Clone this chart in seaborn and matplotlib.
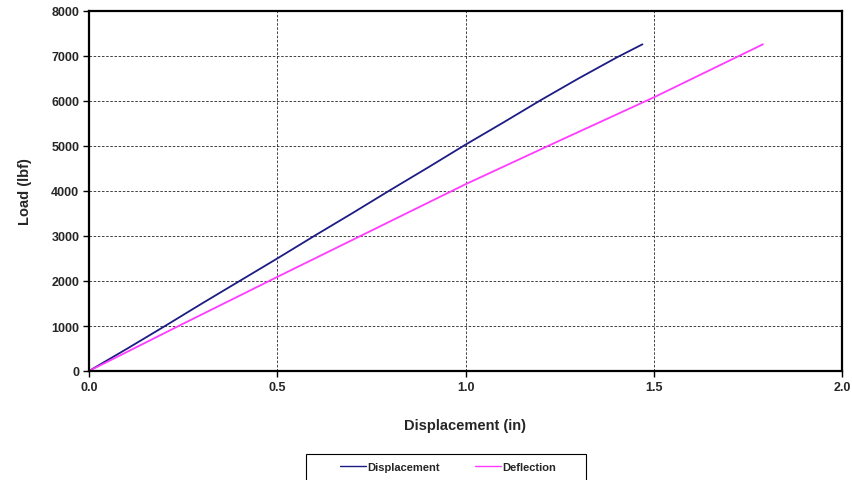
import matplotlib
matplotlib.use("Agg")
import matplotlib.pyplot as plt
import seaborn as sns
import pandas as pd
from matplotlib.lines import Line2D
from matplotlib.patches import Rectangle

disp_x = [0, 0.1, 0.2, 0.3, 0.4, 0.5, 0.6, 0.7, 0.8, 0.9, 1.0, 1.1, 1.2, 1.3, 1.4, 1.47]
disp_load = [0, 490, 990, 1500, 2000, 2500, 3010, 3510, 4020, 4520, 5030, 5520, 6020, 6500, 6960, 7260]
defl_x = [0, 0.25, 0.5, 0.75, 1.0, 1.25, 1.5, 1.79]
defl_load = [0, 1050, 2090, 3120, 4150, 5120, 6080, 7260]
series_names = ["Displacement", "Deflection"]
series_colors = ["#1c1c84", "#ff3cff"]

df = pd.concat([
    pd.DataFrame({"x": disp_x, "load": disp_load, "series": series_names[0]}),
    pd.DataFrame({"x": defl_x, "load": defl_load, "series": series_names[1]}),
], ignore_index=True)

sns.set_theme(style="white")
plt.rcParams["font.family"] = ["Liberation Sans", "DejaVu Sans"]

W, H = 852, 481
fig = plt.figure(figsize=(W / 100, H / 100), dpi=100)
ax = fig.add_axes([89/W, 1-372/H, (842-89)/W, (372-12)/H])

sns.lineplot(data=df, x="x", y="load", hue="series", palette=dict(zip(series_names, series_colors)),
             sort=False, estimator=None, linewidth=1.3, ax=ax, legend=False)

ax.set_xlim(0, 2.0)
ax.set_ylim(0, 8000)
ax.set_xticks([0, 0.5, 1.0, 1.5, 2.0])
ax.set_xticklabels(["0.0", "0.5", "1.0", "1.5", "2.0"])
ax.set_yticks(range(0, 8001, 1000))
ax.grid(True, color="#222222", linestyle=(0, (3, 2)), linewidth=0.6)
for s in ax.spines.values():
    s.set_color("black")
    s.set_linewidth(1.6)
ax.tick_params(axis="both", direction="out", length=4, width=1, color="black",
               labelsize=9, pad=3, bottom=True, left=True)
for lab in ax.get_xticklabels() + ax.get_yticklabels():
    lab.set_fontweight("bold")
ax.set_xlabel("Displacement (in)", fontsize=10.5, fontweight="bold", labelpad=18)
ax.set_ylabel("Load (lbf)", fontsize=10.5, fontweight="bold", labelpad=14)

# legend box (extends past bottom edge as in the reference)
fig.patches.append(Rectangle((306/W, 1-490/H), (586-306)/W, (490-455)/H,
                             transform=fig.transFigure, facecolor="white",
                             edgecolor="black", linewidth=0.8, zorder=1))
handles = [Line2D([], [], color=c, lw=1.0) for c in series_colors]
leg = fig.legend(handles, series_names, loc="center", bbox_to_anchor=(448/W, 1-468/H),
                 ncol=2, frameon=False, handlelength=2.35, handletextpad=0.05,
                 columnspacing=3.2, borderpad=0.0,
                 prop={"weight": "bold", "size": 8})
leg.set_zorder(2)

fig.savefig("out.png", dpi=100, facecolor="white")
